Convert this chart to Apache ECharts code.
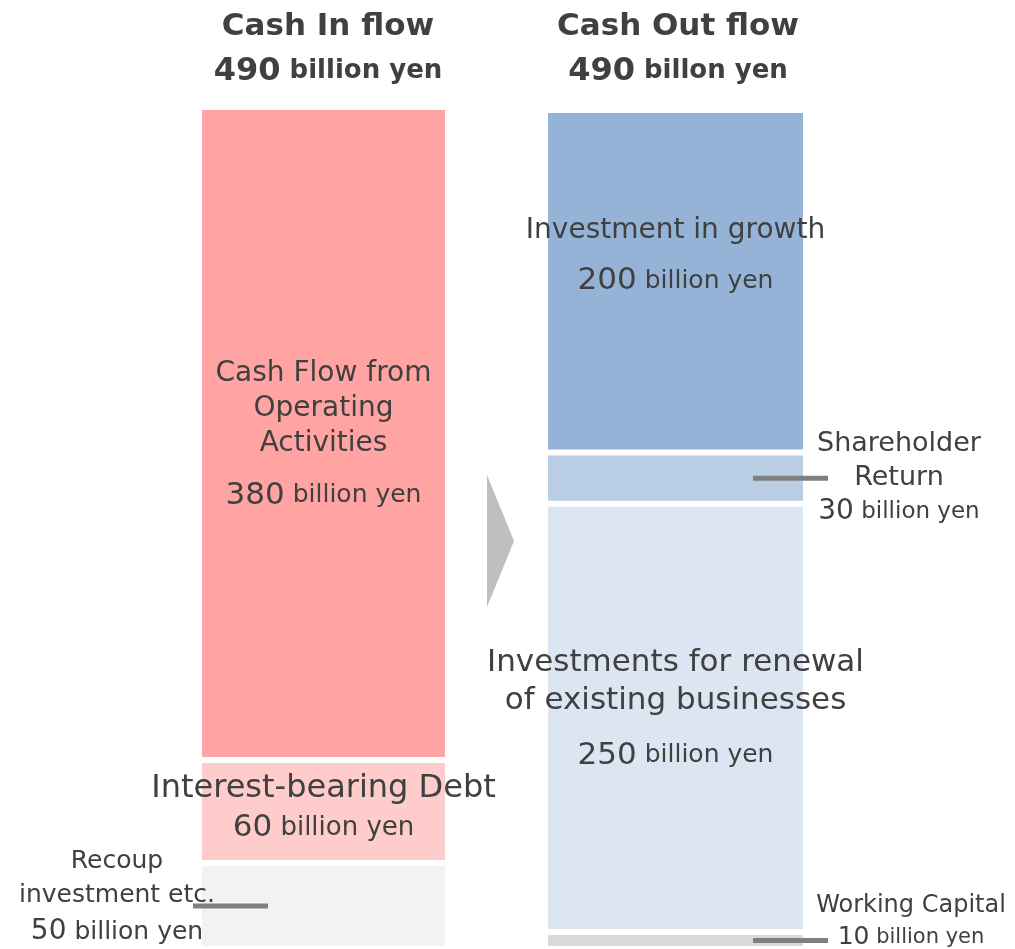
<!DOCTYPE html>
<html>
<head>
<meta charset="utf-8">
<script src="https://cdn.jsdelivr.net/npm/echarts@6/dist/echarts.min.js"></script>
<style>
  html, body { margin: 0; padding: 0; background: #fff; }
  #chart { width: 1015px; height: 949px; }
</style>
</head>
<body>
<div id="chart"></div>
<script>
// cash in (top to bottom)
const inNames = ['Cash Flow from\nOperating\nActivities', 'Interest-bearing Debt', 'Recoup\ninvestment etc.'];
const inValues = [380, 60, 50];
// cash out (top to bottom)
const outNames = ['Investment in growth', 'Shareholder\nReturn', 'Investments for renewal\nof existing businesses', 'Working Capital'];
const outValues = [200, 30, 250, 10];
const headers = ['Cash In flow', 'Cash Out flow'];
const totals = [490, 490];
const totalUnits = [' billion yen', ' billon yen'];
const unit = ' billion yen';

const inColors = ['#ffa3a3', '#ffcccc', '#f2f2f2'];
const outColors = ['#95b3d7', '#b9cde5', '#dce6f2', '#d9d9d9'];
const textColor = '#404040';
const font = 'DejaVu Sans';

// label look per segment: name size, name line height, value size, unit size, value line height
const inLabelStyle = [
  { pos: 'inside', n: 28, nl: 35, v: 31, u: 25, vl: 69, offset: [0, 10] },
  { pos: 'inside', n: 32, nl: 39, v: 31, u: 26, vl: 39, offset: [0, -3] },
  { pos: 'left', dist: 82, n: 25, nl: 34, v: 28, u: 25, vl: 40, offset: [0, -8] }
];
const outLabelStyle = [
  { pos: 'inside', n: 28, nl: 40, v: 31, u: 25, vl: 62, offset: [0, -20] },
  { pos: 'right', dist: 93, n: 27, nl: 34, v: 28, u: 23, vl: 34, offset: [0, 0] },
  { pos: 'inside', n: 31, nl: 38, v: 31, u: 25, vl: 72, offset: [0, 0] },
  { pos: 'right', dist: 105, n: 24, nl: 32, v: 25, u: 21, vl: 32, offset: [0, -19] }
];

function makeLabel(name, value, st) {
  const lines = name.split('\n').map(l => '{n|' + l + '}');
  lines.push('{v|' + value + '}{u|' + unit + '}');
  return {
    show: true,
    position: st.pos,
    distance: st.dist || 0,
    align: 'center',
    offset: st.offset,
    formatter: lines.join('\n'),
    rich: {
      n: { fontFamily: font, fontSize: st.n, lineHeight: st.nl, color: textColor },
      v: { fontFamily: font, fontSize: st.v, lineHeight: st.vl, color: textColor },
      u: { fontFamily: font, fontSize: st.u, lineHeight: st.vl, color: textColor }
    }
  };
}

function buildSeries(names, values, colors, styles, idx) {
  const out = [];
  // stack from the bottom up
  for (let i = values.length - 1; i >= 0; i--) {
    out.push({
      type: 'bar',
      name: names[i],
      xAxisIndex: idx,
      yAxisIndex: idx,
      stack: 'flow' + idx,
      barWidth: '100%',
      silent: true,
      data: [values[i]],
      itemStyle: { color: colors[i], borderColor: '#fff', borderWidth: 3 },
      label: makeLabel(names[i], values[i], styles[i])
    });
  }
  return out;
}

function header(i, x) {
  return {
    left: x,
    top: 4,
    padding: 0,
    textAlign: 'center',
    text: '{a|' + headers[i] + '}\n{b|' + totals[i] + '}{c|' + totalUnits[i] + '}',
    textStyle: {
      rich: {
        a: { fontFamily: font, fontWeight: 'bold', fontSize: 31, lineHeight: 45, color: textColor },
        b: { fontFamily: font, fontWeight: 'bold', fontSize: 32, lineHeight: 45, color: textColor },
        c: { fontFamily: font, fontWeight: 'bold', fontSize: 26, lineHeight: 45, color: textColor }
      }
    }
  };
}

const myChart = echarts.init(document.getElementById('chart'));

const option = {
  animation: false,
  title: [header(0, 328), header(1, 678)],
  grid: [
    { left: 199, top: 107, width: 249, height: 844 },
    { left: 545, top: 110, width: 261, height: 839 }
  ],
  xAxis: [0, 1].map(i => ({ type: 'category', gridIndex: i, data: [headers[i]], show: false })),
  yAxis: [0, 1].map(i => ({ type: 'value', gridIndex: i, min: 0, max: totals[i], show: false })),
  series: buildSeries(inNames, inValues, inColors, inLabelStyle, 0)
    .concat(buildSeries(outNames, outValues, outColors, outLabelStyle, 1))
};

myChart.setOption(option);

// leader lines for the small segments sit at each segment's middle
function segMid(values, i) {
  let below = 0;
  for (let k = i + 1; k < values.length; k++) below += values[k];
  return below + values[i] / 2;
}
const lineStyle = { stroke: '#7f7f7f', lineWidth: 5 };
const yShare = myChart.convertToPixel({ yAxisIndex: 1 }, segMid(outValues, 1));
const yWork = myChart.convertToPixel({ yAxisIndex: 1 }, segMid(outValues, 3));
const yRecoup = myChart.convertToPixel({ yAxisIndex: 0 }, segMid(inValues, 2));

myChart.setOption({
  graphic: [
    { type: 'polygon', z: 100, shape: { points: [[487, 475], [514, 541], [487, 607]] }, style: { fill: '#bfbfbf' } },
    { type: 'line', z: 100, shape: { x1: 753, y1: yShare, x2: 828, y2: yShare }, style: lineStyle },
    { type: 'line', z: 100, shape: { x1: 753, y1: yWork, x2: 828, y2: yWork }, style: lineStyle },
    { type: 'line', z: 100, shape: { x1: 193, y1: yRecoup, x2: 268, y2: yRecoup }, style: lineStyle }
  ]
});

window.addEventListener('resize', myChart.resize);
</script>
</body>
</html>
